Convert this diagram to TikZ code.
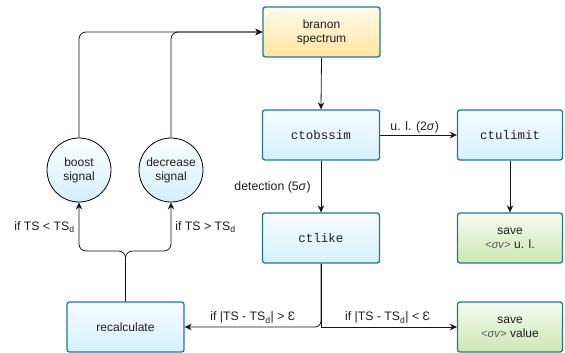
\documentclass[tikz,border=0pt]{standalone}
\usepackage{fontspec}
\setmainfont{Liberation Sans}
\setmonofont{Liberation Mono}
\usetikzlibrary{arrows.meta,calc}
\definecolor{bstroke}{RGB}{32,120,152}
\definecolor{btop}{RGB}{246,252,255}
\definecolor{bbot}{RGB}{214,240,252}
\definecolor{ytop}{RGB}{255,250,234}
\definecolor{ybot}{RGB}{255,228,158}
\definecolor{gtop}{RGB}{246,251,241}
\definecolor{gbot}{RGB}{203,231,178}
\definecolor{ctop}{RGB}{252,254,255}
\definecolor{cbot}{RGB}{212,239,251}
\definecolor{txt}{RGB}{30,30,30}
\definecolor{edge}{RGB}{20,20,20}
\tikzset{
  box/.style={draw=bstroke, line width=1.3pt, rounded corners=2.5pt,
    minimum width=117pt, minimum height=50pt, align=center, text=txt,
    font=\fontsize{12}{14}\selectfont},
  bluebox/.style={box, top color=btop, bottom color=bbot},
  yellowbox/.style={box, top color=ytop, bottom color=ybot},
  greenbox/.style={box, top color=gtop, bottom color=gbot, minimum width=105pt},
  tool/.style={font=\fontsize{12.5}{14}\ttfamily},
  circ/.style={circle, draw=black, line width=0.8pt, minimum size=64pt, inner sep=0pt,
    top color=ctop, bottom color=cbot, align=center, text=txt,
    font=\fontsize{12}{14}\selectfont},
  conn/.style={draw=edge, line width=0.8pt, -{Stealth[length=7pt,width=6.5pt]}},
  lbl/.style={text=txt, font=\fontsize{12.3}{14}\selectfont, inner sep=1pt},
}
\newcommand{\sv}{{\fontsize{11}{12}\selectfont\color{txt!75}<\textit{σv}>}}
\begin{document}
\begin{tikzpicture}[x=1pt,y=-1pt]
\useasboundingbox (0,0) rectangle (565,353);
\node[yellowbox] (branon) at (321.5,32) {branon\\spectrum};
\node[bluebox, tool] (ctobssim) at (321,135) {ctobssim};
\node[bluebox, tool, minimum width=105pt] (ctulimit) at (510,135) {ctulimit};
\node[bluebox, tool] (ctlike) at (321,238) {ctlike};
\node[greenbox] (saveul) at (510,238) {save\\\sv{} u. l.};
\node[bluebox] (recalc) at (125.5,327) {recalculate};
\node[greenbox] (saveval) at (510,327) {save\\\sv{} value};
\node[circ] (boost) at (79,170) {boost\\signal};
\node[circ] (decrease) at (171,170) {decrease\\signal};
\coordinate (split) at (125.5,251);
\coordinate (fork) at (321,327);

\draw[conn, rounded corners=7pt] (boost.north) -- (boost.north |- branon.west) -- (branon.west);
\draw[conn, rounded corners=7pt] (decrease.north) -- (decrease.north |- branon.west) -- (branon.west);
\draw[conn] (branon.south) -- (ctobssim.north);
\draw[conn] (ctobssim.east) -- node[lbl, above, pos=0.45, yshift=1pt] {u. l. (2\textit{σ})} (ctulimit.west);
\draw[conn] (ctobssim.south) -- node[lbl, left, pos=0.52, xshift=-9pt] {detection (5\textit{σ})} (ctlike.north);
\draw[conn] (ctulimit.south) -- (saveul.north);
\draw[conn, rounded corners=6pt] (ctlike.south) -- (fork) -- node[lbl, above, pos=0.5, yshift=2pt] {if |TS - TS\textsubscript{d}| > Ɛ} (recalc.east);
\draw[conn] (ctlike.south) -- (fork) -- node[lbl, above, pos=0.49, yshift=2pt] {if |TS - TS\textsubscript{d}| < Ɛ} (saveval.west);
\draw[conn, rounded corners=7pt] (recalc.north) -- (split) -- (split -| boost.south) -- node[lbl, left, pos=0.5, xshift=-3pt] {if TS < TS\textsubscript{d}} (boost.south);
\draw[conn, rounded corners=7pt] (recalc.north) -- (split) -- (split -| decrease.south) -- node[lbl, right, pos=0.5, xshift=3pt] {if TS > TS\textsubscript{d}} (decrease.south);
\end{tikzpicture}
\end{document}
